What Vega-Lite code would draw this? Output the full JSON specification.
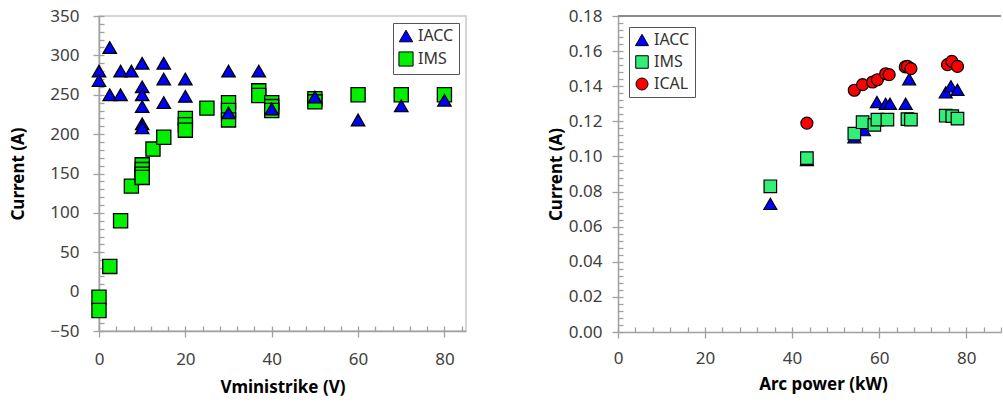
{
  "$schema": "https://vega.github.io/schema/vega-lite/v6.json",
  "padding": {"left": 9, "top": 6, "right": 0, "bottom": 0},
  "spacing": 80,
  "background": "white",
  "config": {
    "axis": {"grid": false, "domainColor": "#a0a0a0", "domainWidth": 1.5, "tickColor": "#a0a0a0", "tickWidth": 1.3,
      "labelFont": "Noto Sans", "labelFontSize": 17, "labelColor": "#404040", "titleFont": "Noto Sans", "titleFontSize": 17,
      "titleFontWeight": "bold", "titleColor": "#000000", "labelOverlap": false, "labelFlush": false, "labelBound": false},
    "legend": {"labelFont": "Noto Sans", "labelFontSize": 16, "labelColor": "#333333", "strokeColor": "#555555", "fillColor": "white",
      "padding": 5, "rowPadding": 5, "symbolSize": 120, "symbolStrokeColor": "black", "symbolStrokeWidth": 1, "title": null}
  },
  "hconcat": [
    {
      "width": 367, "height": 315,
      "view": {"stroke": "#c8c8c8", "strokeWidth": 1.5},
      "data": {"values": [
        {"series": "IMS", "v": 0, "i": -7}, {"series": "IMS", "v": 0, "i": -24}, {"series": "IMS", "v": 2.5, "i": 32},
        {"series": "IMS", "v": 5, "i": 90}, {"series": "IMS", "v": 7.5, "i": 134}, {"series": "IMS", "v": 10, "i": 161},
        {"series": "IMS", "v": 10, "i": 155}, {"series": "IMS", "v": 10, "i": 149}, {"series": "IMS", "v": 10, "i": 145},
        {"series": "IMS", "v": 12.5, "i": 181}, {"series": "IMS", "v": 15, "i": 196}, {"series": "IMS", "v": 20, "i": 220},
        {"series": "IMS", "v": 20, "i": 212}, {"series": "IMS", "v": 20, "i": 205}, {"series": "IMS", "v": 25, "i": 233},
        {"series": "IMS", "v": 30, "i": 240}, {"series": "IMS", "v": 30, "i": 230}, {"series": "IMS", "v": 30, "i": 218},
        {"series": "IMS", "v": 37, "i": 255}, {"series": "IMS", "v": 37, "i": 249}, {"series": "IMS", "v": 40, "i": 240},
        {"series": "IMS", "v": 40, "i": 235}, {"series": "IMS", "v": 40, "i": 230}, {"series": "IMS", "v": 50, "i": 245},
        {"series": "IMS", "v": 50, "i": 241}, {"series": "IMS", "v": 60, "i": 250}, {"series": "IMS", "v": 70, "i": 250},
        {"series": "IMS", "v": 80, "i": 250},
        {"series": "IACC", "v": 0, "i": 280}, {"series": "IACC", "v": 0, "i": 268}, {"series": "IACC", "v": 2.5, "i": 310},
        {"series": "IACC", "v": 2.5, "i": 250}, {"series": "IACC", "v": 5, "i": 280}, {"series": "IACC", "v": 5, "i": 250},
        {"series": "IACC", "v": 7.5, "i": 280}, {"series": "IACC", "v": 10, "i": 290}, {"series": "IACC", "v": 10, "i": 260},
        {"series": "IACC", "v": 10, "i": 250}, {"series": "IACC", "v": 10, "i": 235}, {"series": "IACC", "v": 10, "i": 213},
        {"series": "IACC", "v": 10, "i": 208}, {"series": "IACC", "v": 15, "i": 290}, {"series": "IACC", "v": 15, "i": 270},
        {"series": "IACC", "v": 15, "i": 240}, {"series": "IACC", "v": 20, "i": 270}, {"series": "IACC", "v": 20, "i": 248},
        {"series": "IACC", "v": 30, "i": 280}, {"series": "IACC", "v": 30, "i": 227}, {"series": "IACC", "v": 37, "i": 280},
        {"series": "IACC", "v": 40, "i": 232}, {"series": "IACC", "v": 50, "i": 247}, {"series": "IACC", "v": 60, "i": 218},
        {"series": "IACC", "v": 70, "i": 236}, {"series": "IACC", "v": 80, "i": 243}
      ]},
      "layer": [
        {
          "mark": {"type": "point", "opacity": 0},
          "encoding": {
            "x": {"field": "v", "type": "quantitative", "scale": {"domain": [0, 85], "nice": false, "zero": false},
              "axis": {"orient": "bottom", "title": null, "labels": false, "domain": false, "tickSize": -5,
                "values": [0,4,8,12,16,20,24,28,32,36,40,44,48,52,56,60,64,68,72,76,80,84]}},
            "y": {"field": "i", "type": "quantitative", "scale": {"domain": [-50, 350], "nice": false, "zero": false},
              "axis": {"orient": "left", "title": null, "labels": false, "domain": false, "tickSize": -5,
                "values": [-50,-40,-30,-20,-10,0,10,20,30,40,50,60,70,80,90,100,110,120,130,140,150,160,170,180,190,200,210,220,230,240,250,260,270,280,290,300,310,320,330,340,350]}}
          }
        },
        {
          "mark": {"type": "point", "filled": true, "stroke": "black", "strokeWidth": 1.3, "opacity": 1},
          "encoding": {
            "x": {"field": "v", "type": "quantitative",
              "axis": {"orient": "bottom", "title": "Vministrike (V)", "values": [0, 20, 40, 60, 80], "tickSize": 6,
                "labelPadding": 14, "titlePadding": 12}},
            "y": {"field": "i", "type": "quantitative",
              "axis": {"orient": "left", "title": "Current (A)", "values": [-50, 0, 50, 100, 150, 200, 250, 300, 350],
                "format": "d", "tickSize": 6, "labelPadding": 14, "titlePadding": 22}},
            "color": {"field": "series", "type": "nominal", "scale": {"domain": ["IACC", "IMS"], "range": ["#0000FF", "#00F000"]},
              "legend": {"orient": "top-right", "offset": 7}},
            "shape": {"field": "series", "type": "nominal", "scale": {"domain": ["IACC", "IMS"], "range": ["triangle-up", "square"]},
              "legend": {"orient": "top-right", "offset": 7}},
            "size": {"field": "series", "type": "nominal", "scale": {"domain": ["IACC", "IMS"], "range": [180, 200]}, "legend": null}
          }
        }
      ],
      "resolve": {"axis": {"x": "independent", "y": "independent"}}
    },
    {
      "width": 383, "height": 316,
      "view": {"stroke": null},
      "data": {"values": [
        {"series": "IACC", "p": 35, "c": 0.073}, {"series": "IACC", "p": 43.4, "c": 0.098}, {"series": "IACC", "p": 54.3, "c": 0.111},
        {"series": "IACC", "p": 56.5, "c": 0.115}, {"series": "IACC", "p": 59.5, "c": 0.131}, {"series": "IACC", "p": 61.5, "c": 0.130},
        {"series": "IACC", "p": 62.5, "c": 0.130}, {"series": "IACC", "p": 66.1, "c": 0.130}, {"series": "IACC", "p": 66.9, "c": 0.144},
        {"series": "IACC", "p": 75.3, "c": 0.1365}, {"series": "IACC", "p": 76.5, "c": 0.140}, {"series": "IACC", "p": 78, "c": 0.138},
        {"series": "IMS", "p": 35, "c": 0.083}, {"series": "IMS", "p": 43.4, "c": 0.099}, {"series": "IMS", "p": 54.3, "c": 0.113},
        {"series": "IMS", "p": 56.2, "c": 0.1195}, {"series": "IMS", "p": 58.9, "c": 0.118}, {"series": "IMS", "p": 59.6, "c": 0.121},
        {"series": "IMS", "p": 61.9, "c": 0.121}, {"series": "IMS", "p": 66.5, "c": 0.1213}, {"series": "IMS", "p": 67.3, "c": 0.121},
        {"series": "IMS", "p": 75.3, "c": 0.1232}, {"series": "IMS", "p": 76.8, "c": 0.123}, {"series": "IMS", "p": 78, "c": 0.1215},
        {"series": "ICAL", "p": 43.4, "c": 0.119}, {"series": "ICAL", "p": 54.3, "c": 0.1377}, {"series": "ICAL", "p": 56.2, "c": 0.1409},
        {"series": "ICAL", "p": 58.5, "c": 0.1424}, {"series": "ICAL", "p": 59.6, "c": 0.1437}, {"series": "ICAL", "p": 61.5, "c": 0.1471},
        {"series": "ICAL", "p": 62.3, "c": 0.1466}, {"series": "ICAL", "p": 66, "c": 0.151}, {"series": "ICAL", "p": 66.5, "c": 0.1513},
        {"series": "ICAL", "p": 67.3, "c": 0.150}, {"series": "ICAL", "p": 75.7, "c": 0.1523}, {"series": "ICAL", "p": 76.7, "c": 0.1542},
        {"series": "ICAL", "p": 78, "c": 0.1513}
      ]},
      "layer": [
        {
          "mark": {"type": "point", "opacity": 0},
          "encoding": {
            "x": {"field": "p", "type": "quantitative", "scale": {"domain": [0, 88], "nice": false, "zero": false},
              "axis": {"orient": "bottom", "title": null, "labels": false, "domain": false, "tickSize": -5,
                "values": [0,4,8,12,16,20,24,28,32,36,40,44,48,52,56,60,64,68,72,76,80,84,88]}},
            "y": {"field": "c", "type": "quantitative", "scale": {"domain": [0, 0.18], "nice": false, "zero": false},
              "axis": {"orient": "left", "title": null, "labels": false, "domain": false, "tickSize": -5,
                "values": [0,0.004,0.008,0.012,0.016,0.02,0.024,0.028,0.032,0.036,0.04,0.044,0.048,0.052,0.056,0.06,0.064,0.068,0.072,0.076,0.08,0.084,0.088,0.092,0.096,0.1,0.104,0.108,0.112,0.116,0.12,0.124,0.128,0.132,0.136,0.14,0.144,0.148,0.152,0.156,0.16,0.164,0.168,0.172,0.176,0.18]}}
          }
        },
        {
          "mark": {"type": "rule", "color": "#8c8c8c", "strokeWidth": 2},
          "encoding": {"y": {"datum": 0.18, "type": "quantitative", "axis": null}}
        },
        {
          "mark": {"type": "point", "filled": true, "stroke": "black", "strokeWidth": 1.2, "opacity": 1},
          "encoding": {
            "x": {"field": "p", "type": "quantitative",
              "axis": {"orient": "bottom", "title": "Arc power (kW)", "values": [0, 20, 40, 60, 80], "tickSize": 6,
                "labelPadding": 12, "titlePadding": 10, "titleX": 205}},
            "y": {"field": "c", "type": "quantitative",
              "axis": {"orient": "left", "title": "Current (A)", "values": [0, 0.02, 0.04, 0.06, 0.08, 0.1, 0.12, 0.14, 0.16, 0.18],
                "format": ".2f", "tickSize": 6, "labelPadding": 10, "titlePadding": 3}},
            "color": {"field": "series", "type": "nominal", "scale": {"domain": ["IACC", "IMS", "ICAL"], "range": ["#0000FF", "#33EE77", "#FF0000"]},
              "legend": {"orient": "top-left", "offset": 11, "symbolSize": 110}},
            "shape": {"field": "series", "type": "nominal", "scale": {"domain": ["IACC", "IMS", "ICAL"], "range": ["triangle-up", "square", "circle"]},
              "legend": {"orient": "top-left", "offset": 11, "symbolSize": 110}},
            "size": {"field": "series", "type": "nominal", "scale": {"domain": ["IACC", "IMS", "ICAL"], "range": [170, 144, 256]}, "legend": null}
          }
        }
      ],
      "resolve": {"axis": {"x": "independent", "y": "independent"}}
    }
  ],
  "resolve": {"scale": {"color": "independent", "shape": "independent", "size": "independent"}}
}
